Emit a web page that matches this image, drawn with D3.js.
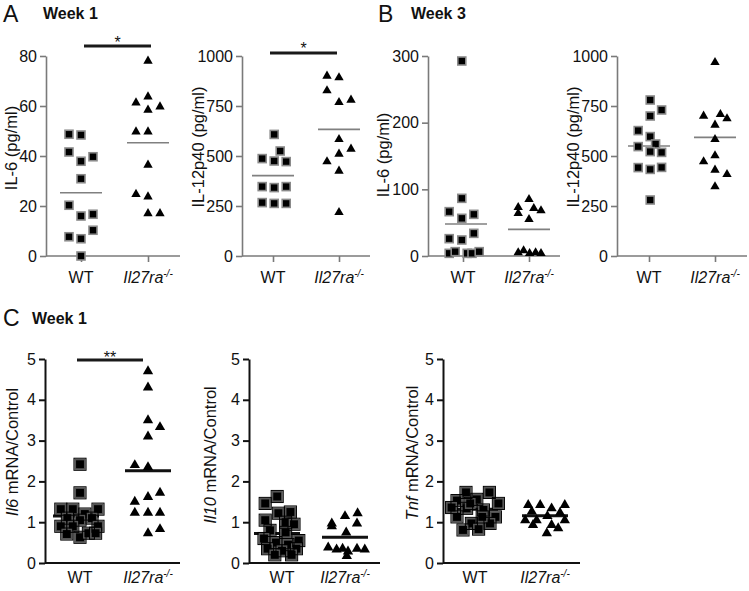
<!DOCTYPE html>
<html><head><meta charset="utf-8">
<script src="https://cdn.jsdelivr.net/npm/d3@7"></script>
<style>
body{margin:0;background:#fff}
text{font-family:"Liberation Sans",Arial,Helvetica,sans-serif;fill:#111}
</style>
</head><body>
<svg id="c" width="749" height="591" xmlns="http://www.w3.org/2000/svg"></svg>
<script>
// ---------- DATA ----------
const groups = ["WT", "Il27ra"];

// Panel A (week 1) IL-6 pg/ml
const aIL6WT        = [48.7,48.4,41.6,39.7,37.9,30.9,20.3,16,16.7,10.3,7.7,6.9,0];
const aIL6WTJit     = [-1,0,-1,1,0,0,-1,0,1,1,-1,0,0];
const aIL6KO        = [78,61.3,63.7,59.7,58.4,49.7,49.7,36.4,24.7,23.7,17,17];
const aIL6KOJit     = [0,-1,0,1,0,-1,0,0,-1,0,0,1];
const aIL6Means     = [25.3,45.3];

// Panel A (week 1) IL-12p40 pg/ml
const aP40WT        = [608,525,487,475,472,347,342,347,267,263,263];
const aP40WTJit     = [0.1,0.6,-0.9,0.1,1.1,-0.9,0.1,1.1,-0.9,0.1,1.1];
const aP40KO        = [900,892,827,768,780,583,535,510,472,425,218];
const aP40KOJit     = [-1,0,-1,0,1,0,1,0,-1,0,0];
const aP40Means     = [402,633];

// Panel B (week 3) IL-6 pg/ml
const bIL6WT        = [292.5,86.5,66.5,62.5,56.5,26,24,34,4,6.5,4,4,6.5];
const bIL6WTJit     = [-0.1,-0.1,-1.15,0.9,-0.1,-1.15,-0.1,0.9,-1.15,-0.65,0.35,0.75,1.35];
const bIL6KO        = [85,73,64,71.5,68,55,5,8,4,5,4];
const bIL6KOJit     = [0,-0.9,-0.9,0.4,1.0,0,-0.9,-0.45,0.05,0.55,1.0];
const bIL6Means     = [48,40];

// Panel B (week 3) IL-12p40 pg/ml
const bP40WT        = [780,730,700,627,597,547,560,522,518,442,433,443,280];
const bP40WTJit     = [0.1,1.05,0.1,-0.9,0.1,-0.9,0.55,0.1,1.05,-0.9,0.1,1.05,0.1];
const bP40KO        = [968,700,708,687,655,583,502,472,430,408,347];
const bP40KOJit     = [0,-0.95,0.45,1.0,0,0,0,-0.95,0,1.0,0];
const bP40Means     = [550,593];

// Panel C (week 1) Il6 mRNA / control
const cIl6WT        = [2.42,1.72,1.32,1.32,1.32,1.2,1.1,1.05,1.1,0.9,0.9,0.9,0.71,0.63,0.73,0.73];
const cIl6WTJit     = [0,0,-1.6,-0.6,1.5,0.4,-1.05,0,1,-1.6,-0.6,1.5,-1.1,0,0.7,1.3];
const cIl6KO        = [4.7,4.3,3.5,3.33,3.1,2.4,2.35,1.72,1.62,1.5,1.23,1.23,1.23,0.83,0.73];
const cIl6KOJit     = [0,0,0,1,0,-1.1,0,1,0,-1.1,-1.1,0,1,1,0];
const cIl6Means     = [1.15,2.26];

// Panel C (week 1) Il10 mRNA / control
const cIl10WT       = [1.63,1.46,1.25,1.22,1.05,1.0,0.95,0.8,0.75,0.6,0.55,0.5,0.45,0.35,0.35,0.3,0.2,0.2];
const cIl10WTJit    = [-0.4,-1.4,0.7,-0.3,-1.4,0.3,1.0,-1.0,0.3,-1.5,1.4,-0.5,0.5,-1.2,1.2,0,-0.6,0.8];
const cIl10KO       = [1.22,1.15,0.97,0.9,0.97,0.75,0.38,0.33,0.35,0.28,0.35,0.33,0.17];
const cIl10KOJit    = [1.05,0,-1.1,-1.1,1.0,0.1,-1.4,-0.7,-0.2,0.25,1.0,1.65,0.15];
const cIl10Means    = [0.72,0.63];

// Panel C (week 1) Tnf mRNA / control
const cTnfWT        = [1.73,1.73,1.53,1.56,1.46,1.34,1.3,1.13,1.13,0.97,0.97,0.83,0.81,1.13,1.36,1.46];
const cTnfWTJit     = [-0.75,1.2,-1.5,0.15,1.95,-0.7,0.7,1.7,-1.5,-0.3,1.25,0.3,-1.0,0.6,-1.95,-0.4];
const cTnfKO        = [1.42,1.42,1.34,1.42,1.26,1.23,1.05,1.05,1.05,0.93,0.93,0.85,0.73,1.15];
const cTnfKOJit     = [-1.4,-0.4,0.55,1.65,-1.1,1.25,-1.65,-0.7,1.65,-1.0,0.55,1.1,0.15,0.2];
const cTnfMeans     = [1.32,1.16];

const ticksIL6wk1 = [0,20,40,60,80];
const ticksP40    = [0,250,500,750,1000];
const ticksIL6wk3 = [0,100,200,300];
const ticksMRNA   = [0,1,2,3,4,5];

// ---------- DRAWING ----------
const svg = d3.select("#c");
const FONT = '"Liberation Sans",Arial,Helvetica,sans-serif';

function panel(o) {
  const y = d3.scaleLinear().domain([0, o.max]).range([o.bottom, o.top]);
  const x = d3.scalePoint().domain(groups).range(o.cats);
  const jit = d3.scaleLinear().domain([0, 1]).range([0, 12]);
  const g = svg.append("g");
  const isC = o.style === "C";
  const axCol = isC ? "#111" : "#7a7a7a";
  const axW = isC ? 2 : 1.6;

  // y axis
  const ya = g.append("g").attr("transform", `translate(${o.left},0)`)
    .call(d3.axisLeft(y).tickValues(o.ticks).tickSize(6).tickSizeOuter(0).tickPadding(3)
      .tickFormat(d3.format("d")));
  ya.select(".domain").attr("stroke", axCol).attr("stroke-width", axW);
  ya.selectAll(".tick line").attr("stroke", axCol).attr("stroke-width", axW);
  ya.selectAll(".tick text").attr("font-size", 16).attr("font-family", FONT).attr("fill", "#111");

  // x axis line
  g.append("line").attr("x1", o.left).attr("x2", o.right)
    .attr("y1", y(0)).attr("y2", y(0))
    .attr("stroke", axCol).attr("stroke-width", axW);
  if (!isC) {
    const xa = g.append("g").attr("transform", `translate(0,${y(0)})`)
      .call(d3.axisBottom(x).tickSize(6).tickFormat(""));
    xa.select(".domain").remove();
    xa.selectAll(".tick line").attr("stroke", axCol).attr("stroke-width", axW);
  }
  // category labels
  const labY = isC ? 583 : 283;
  g.append("text").attr("x", x("WT")).attr("y", labY).attr("text-anchor", "middle")
    .attr("font-size", 16).text("WT");
  const t = g.append("text").attr("x", x("Il27ra")).attr("y", labY).attr("text-anchor", "middle")
    .attr("font-size", 16).attr("font-style", "italic");
  t.append("tspan").text("Il27ra");
  t.append("tspan").attr("dy", -6).attr("font-size", 10).text("-/-");

  // y label
  const yl = g.append("text")
    .attr("transform", `translate(${o.ylx},${o.yly}) rotate(-90)`)
    .attr("text-anchor", "middle").attr("font-size", 16.5);
  if (o.yItalic) {
    yl.append("tspan").attr("font-style", "italic").text(o.yItalic);
    yl.append("tspan").text(o.ylabel);
  } else yl.text(o.ylabel);

  // mean lines
  const half = isC ? 23 : 21;
  g.selectAll("line.mean").data(o.means).enter().append("line").attr("class", "mean")
    .attr("x1", (d, i) => x(groups[i]) + (i === 0 ? o.wtLineShift || 0 : 0) - half)
    .attr("x2", (d, i) => x(groups[i]) + (i === 0 ? o.wtLineShift || 0 : 0) + half)
    .attr("y1", d => y(d)).attr("y2", d => y(d))
    .attr("stroke", isC ? "#111" : "#808080")
    .attr("stroke-width", isC ? 3 : 1.6);

  // squares (WT)
  const sq = isC ? 9.5 : 8;
  const wtPts = o.wt.map((v, i) => ({v, j: o.wtJ[i]}));
  g.selectAll("rect.wt").data(wtPts).enter().append("rect").attr("class", "wt")
    .attr("x", d => x("WT") + jit(d.j) - sq / 2)
    .attr("y", d => y(d.v) - sq / 2)
    .attr("width", sq).attr("height", sq)
    .attr("fill", "#000")
    .attr("stroke", isC ? "#555" : "#8a8a8a")
    .attr("stroke-width", 1.6);
  if (isC) {
    g.selectAll("rect.wto").data(wtPts).enter().append("rect").attr("class", "wto")
      .attr("x", d => x("WT") + jit(d.j) - sq / 2 - 1.3)
      .attr("y", d => y(d.v) - sq / 2 - 1.3)
      .attr("width", sq + 2.6).attr("height", sq + 2.6)
      .attr("fill", "none").attr("stroke", "#000").attr("stroke-width", 1);
  }
  // triangles (KO)
  const triSize = isC ? 46 : 38;
  const tri = d3.symbol().type(d3.symbolTriangle).size(triSize);
  const koPts = o.ko.map((v, i) => ({v, j: o.koJ[i]}));
  g.selectAll("path.ko").data(koPts).enter().append("path").attr("class", "ko")
    .attr("d", tri)
    .attr("transform", d => `translate(${x("Il27ra") + jit(d.j)},${y(d.v)})`)
    .attr("fill", "#000");

  // significance bar
  if (o.sig) {
    g.append("line").attr("x1", o.sig.x1).attr("x2", o.sig.x2)
      .attr("y1", o.sig.y).attr("y2", o.sig.y)
      .attr("stroke", "#1a1a1a").attr("stroke-width", 3);
    g.append("text").attr("x", (o.sig.x1 + o.sig.x2) / 2).attr("y", o.sig.ty)
      .attr("text-anchor", "middle").attr("font-size", 16).text(o.sig.label);
  }
}

panel({left:46, right:180, top:56, bottom:256, cats:[81,148], max:80, ticks:ticksIL6wk1,
  ylabel:"IL-6 (pg/ml)", ylx:17, yly:148,
  wt:aIL6WT, wtJ:aIL6WTJit, ko:aIL6KO, koJ:aIL6KOJit, means:aIL6Means,
  sig:{x1:84, x2:151, y:46, ty:48, label:"*"}});
panel({left:242, right:370, top:56, bottom:256, cats:[273,339], max:1000, ticks:ticksP40,
  ylabel:"IL-12p40 (pg/ml)", ylx:204, yly:147,
  wt:aP40WT, wtJ:aP40WTJit, ko:aP40KO, koJ:aP40KOJit, means:aP40Means,
  sig:{x1:270, x2:337, y:53, ty:54, label:"*"}});
panel({left:428, right:560, top:56, bottom:256, cats:[463,529], max:300, ticks:ticksIL6wk3,
  ylabel:"IL-6 (pg/ml)", ylx:389, yly:155,
  wt:bIL6WT, wtJ:bIL6WTJit, ko:bIL6KO, koJ:bIL6KOJit, means:bIL6Means, wtLineShift:3});
panel({left:617, right:747, top:56, bottom:256, cats:[649,715], max:1000, ticks:ticksP40,
  ylabel:"IL-12p40 (pg/ml)", ylx:579, yly:147,
  wt:bP40WT, wtJ:bP40WTJit, ko:bP40KO, koJ:bP40KOJit, means:bP40Means});
panel({style:"C", left:45, right:180, top:359, bottom:563, cats:[80,148], max:5, ticks:ticksMRNA,
  yItalic:"Il6", ylabel:" mRNA/Control", ylx:18, yly:452,
  wt:cIl6WT, wtJ:cIl6WTJit, ko:cIl6KO, koJ:cIl6KOJit, means:cIl6Means, wtLineShift:-4,
  sig:{x1:77, x2:143, y:360, ty:363, label:"**"}});
panel({style:"C", left:249, right:380, top:359, bottom:563, cats:[282,345], max:5, ticks:ticksMRNA,
  yItalic:"Il10", ylabel:" mRNA/Control", ylx:216, yly:455,
  wt:cIl10WT, wtJ:cIl10WTJit, ko:cIl10KO, koJ:cIl10KOJit, means:cIl10Means, wtLineShift:-5});
panel({style:"C", left:443, right:580, top:359, bottom:563, cats:[475,545], max:5, ticks:ticksMRNA,
  yItalic:"Tnf", ylabel:" mRNA/Control", ylx:418, yly:453,
  wt:cTnfWT, wtJ:cTnfWTJit, ko:cTnfKO, koJ:cTnfKOJit, means:cTnfMeans});

// panel titles
function title(letter, lx, ly, week, wx, wy) {
  svg.append("text").attr("x", lx).attr("y", ly).attr("font-size", 23).text(letter);
  svg.append("text").attr("x", wx).attr("y", wy).attr("font-size", 16).attr("font-weight", "bold").text(week);
}
title("A", 3, 22, "Week 1", 43, 19);
title("B", 378, 22, "Week 3", 411, 19);
title("C", 3, 326, "Week 1", 32, 324);
</script>
</body></html>
